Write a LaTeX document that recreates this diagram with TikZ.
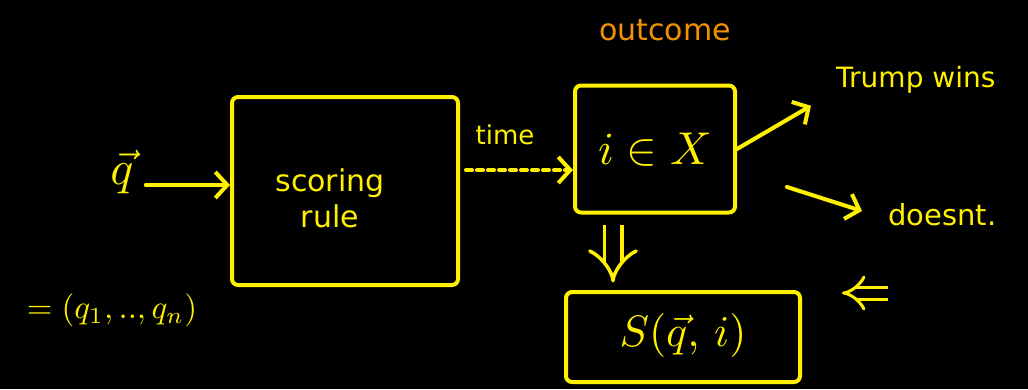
\documentclass[tikz,border=0pt]{standalone}
\usepackage{graphicx}
\usepackage{fontspec}
\setmainfont{DejaVu Sans}
\usetikzlibrary{arrows.meta,calc}
\definecolor{hy}{RGB}{255,240,0}
\definecolor{ho}{RGB}{243,146,0}
\tikzset{
  ink/.style={draw=hy, line width=4pt, line cap=round, line join=round},
  handbox/.style={ink, minimum width=#1, inner sep=0pt, rounded corners=6pt},
  lbl/.style={text=hy, inner sep=0pt},
  arr/.style={ink, -{Straight Barb[length=12pt,width=26pt,line width=4pt]}},
}
\begin{document}
\begin{tikzpicture}[x=1pt,y=-1pt]
\fill[black] (0,0) rectangle (1028,389);
\useasboundingbox (0,0) rectangle (1028,389);
% boxes
\node[handbox=226pt, minimum height=188pt] (rule) at (345,191) {};
\node[handbox=160pt, minimum height=127pt] (out) at (655,149) {};
\node[handbox=234pt, minimum height=90pt] (score) at (683,337) {};
% texts
\node[lbl, font=\fontsize{30}{34}\selectfont, align=center] (ruletxt) at (330,198) {scoring\\[2pt]rule};
\node[lbl] (outtxt) at (655,150) {\scalebox{4.6}{$i\in X$}};
\node[lbl] (scoretxt) at (683,335) {\scalebox{4.4}{$S(\vec q,\, i)$}};
\node[text=ho, inner sep=0pt, font=\fontsize{30}{30}\selectfont] (outcome) at (665,30) {outcome};
\node[lbl] (q) at (122,172) {\scalebox{4.8}{$\vec q$}};
\node[lbl] (qvec) at (112,310) {\scalebox{3.3}{$=(q_1,..,q_n)$}};
\node[lbl, font=\fontsize{26}{26}\selectfont] (time) at (505,135) {time};
\node[lbl, font=\fontsize{28}{28}\selectfont, anchor=west] (wins) at (836,80) {Trump wins};
\node[lbl, font=\fontsize{29}{29}\selectfont, anchor=west] (doesnt) at (888,215) {doesnt.};
% connectors
\draw[arr] (q.east) ++(12,13) coordinate (qa) -- (rule.west |- qa) ;
\draw[arr, dash pattern=on 6pt off 5pt] (rule.east |- 0,170) ++(6,0) coordinate (ta) -- (out.west |- ta);
\coordinate (wa) at (wins.south west);
\draw[arr] (out.east) -- ($(wa)+(-25,12)$);
\draw[arr] (out.east) ++(50,38) coordinate (da) -- ($(doesnt.west)+(-26,-4)$);
\draw[hy, line width=3.5pt, double=black, double distance=14pt, -{Implies[length=14pt,width=44pt]}] (out.south) ++(-42,10) coordinate (ia) -- ++(0,58) coordinate (ib);
\coordinate (la) at (888,293);
\coordinate (lb) at (842,293);
\draw[hy, line width=3pt, double=black, double distance=9pt, -{Implies[length=10pt,width=28pt]}] (la) -- (lb);
\end{tikzpicture}
\end{document}
